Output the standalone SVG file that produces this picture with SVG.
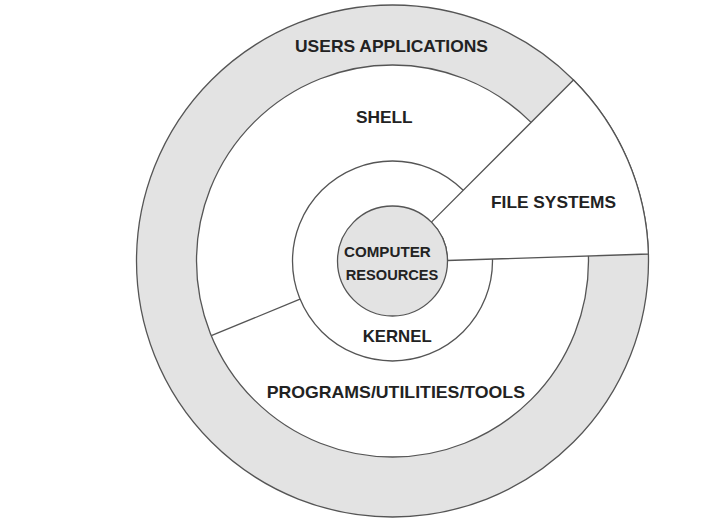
<svg xmlns="http://www.w3.org/2000/svg" width="705" height="529" viewBox="0 0 705 529">
  <style>
    .ln { stroke: #555; stroke-width: 1.3; }
    .gray { fill: #e3e3e3; }
    .white { fill: #ffffff; }
    .lbl { font-family: "Liberation Sans", Arial, Helvetica, sans-serif; font-weight: bold; fill: #222; }
  </style>
  <rect width="705" height="529" fill="#ffffff"/>
  <g id="users-applications">
    <circle class="gray ln" cx="392.5" cy="261" r="256"/>
    <text class="lbl" x="295" y="52.3" font-size="17" textLength="193" lengthAdjust="spacingAndGlyphs">USERS APPLICATIONS</text>
  </g>
  <g id="shell">
    <circle class="white ln" cx="392.5" cy="261" r="196"/>
    <text class="lbl" x="356" y="123.3" font-size="17" textLength="56.7" lengthAdjust="spacingAndGlyphs">SHELL</text>
  </g>
  <g id="kernel">
    <circle class="white ln" cx="392.5" cy="261" r="100"/>
    <text class="lbl" x="362.7" y="341.7" font-size="17" textLength="69" lengthAdjust="spacingAndGlyphs">KERNEL</text>
  </g>
  <g id="file-systems">
    <path class="white ln" d="M431.4,222.1 L573.5,80 A256,256 0 0 1 648.4,254 L447.5,260.5 A55,55 0 0 0 431.4,222.1 Z"/>
    <text class="lbl" x="491" y="208.3" font-size="17" textLength="125" lengthAdjust="spacingAndGlyphs">FILE SYSTEMS</text>
  </g>
  <g id="programs-utilities-tools">
    <text class="lbl" x="266.7" y="398.3" font-size="17" textLength="258.3" lengthAdjust="spacingAndGlyphs">PROGRAMS/UTILITIES/TOOLS</text>
  </g>
  <g id="connectors">
    <line class="ln" x1="300" y1="299.1" x2="211.3" y2="335.7"/>
  </g>
  <g id="computer-resources">
    <circle class="gray ln" cx="392.5" cy="261" r="55"/>
    <text class="lbl" x="344" y="257.3" font-size="15" textLength="86.7" lengthAdjust="spacingAndGlyphs">COMPUTER</text>
    <text class="lbl" x="345.7" y="280" font-size="15" textLength="92.7" lengthAdjust="spacingAndGlyphs">RESOURCES</text>
  </g>
</svg>
